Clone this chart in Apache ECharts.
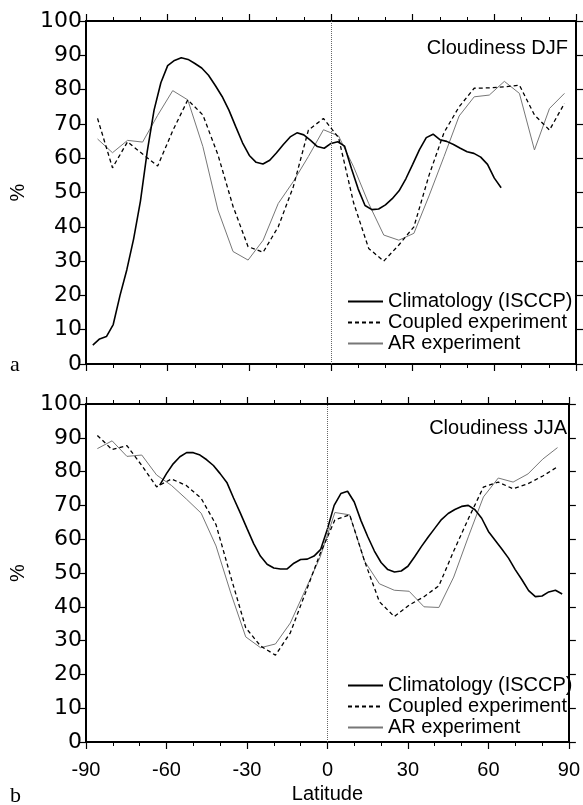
<!DOCTYPE html>
<html><head><meta charset="utf-8">
<script src="https://cdn.jsdelivr.net/npm/echarts/dist/echarts.min.js"></script>
<style>html,body{margin:0;padding:0;background:#fff}#c{width:583px;height:805px}</style>
</head><body><div id="c"></div>
<script>
// ---- data ----
const seriesNames = ['Climatology (ISCCP)', 'Coupled experiment', 'AR experiment'];
const panelTitles = ['Cloudiness DJF', 'Cloudiness JJA'];
const panelTags = ['a', 'b'];
const xTicks = [-90, -60, -30, 0, 30, 60, 90];
const yTicks = [0, 10, 20, 30, 40, 50, 60, 70, 80, 90, 100];

// model (T21 Gaussian) latitudes
const modelLats = [-85.76,-80.27,-74.74,-69.21,-63.68,-58.14,-52.61,-47.07,-41.53,-36.00,-30.46,-24.92,-19.38,-13.84,-8.30,-2.77,
  2.77,8.30,13.84,19.38,24.92,30.46,36.00,41.53,47.07,52.61,58.14,63.68,69.21,74.74,80.27,85.76];

// DJF
const coupledDJF = [71.6,57.2,64.8,61.2,57.7,68.0,77.0,72.6,61.0,46.0,34.2,32.6,40.0,51.7,68.2,71.6,
  66.0,47.0,33.7,30.0,34.7,40.0,55.0,67.5,75.0,80.4,80.5,80.8,81.3,72.6,68.2,76.0];
const arDJF = [65.6,61.6,65.2,64.7,72.5,79.7,77.0,63.4,44.9,32.8,30.3,36.1,46.8,53.2,60.5,68.3,
  66.5,57.5,46.8,37.6,36.1,38.1,49.0,60.5,72.3,77.9,78.4,82.4,78.9,62.4,74.5,78.9];
const climLatDJF = [-87.5,-85,-82.5,-80,-77.5,-75,-72.5,-70,-67.5,-65,-62.5,-60,-57.5,-55,-52.5,-50,-47.5,-45,-42.5,-40,
  -37.5,-35,-32.5,-30,-27.5,-25,-22.5,-20,-17.5,-15,-12.5,-10,-7.5,-5,-2.5,0,2.5,5,7.5,10,12.5,15,17.5,20,22.5,25,
  27.5,30,32.5,35,37.5,40,42.5,45,47.5,50,52.5,55,57.5,60,62.5];
const climDJF = [5.5,7.3,8.0,11.5,20.0,27.5,36.5,47.5,62.0,74.0,82.0,87.0,88.5,89.3,88.8,87.6,86.3,84.2,81.2,78.0,
  74.0,69.2,64.5,60.8,58.8,58.3,59.4,61.6,64.0,66.2,67.4,66.8,65.2,63.4,62.9,64.3,64.8,63.5,57.0,51.0,46.2,45.0,45.2,46.4,48.2,50.5,
  54.0,58.2,62.5,66.0,67.0,65.4,64.9,64.0,62.9,61.9,61.4,60.3,58.2,54.2,51.4];

// JJA
const coupledJJA = [90.7,86.5,87.7,81.8,75.5,77.8,75.9,72.1,64.3,48.8,33.8,28.4,25.7,32.3,43.9,55.6,
  65.7,67.2,53.5,41.5,37.1,40.5,43.0,46.2,56.5,66.2,75.4,76.9,74.9,76.4,78.7,81.4];
const arJJA = [86.8,89.1,84.5,84.9,79.0,75.9,71.9,67.7,58.0,44.0,31.1,27.9,29.0,35.2,44.9,54.6,
  67.9,67.2,53.5,46.8,44.9,44.6,40.0,39.8,48.8,60.9,72.5,78.1,76.9,79.3,83.7,87.1];
const climLatJJA = [-62.5,-60,-57.5,-55,-52.5,-50,-47.5,-45,-42.5,-40,-37.5,-35,-32.5,-30,-27.5,-25,-22.5,-20,-17.5,-15,
  -12.5,-10,-7.5,-5,-2.5,0,2.5,5,7.5,10,12.5,15,17.5,20,22.5,25,27.5,30,32.5,35,37.5,40,42.5,45,47.5,50,52.5,55,57.5,
  60,62.5,65,67.5,70,72.5,75,77.5,80,82.5,85,87.5];
const climJJA = [76.0,79.4,82.3,84.4,85.6,85.6,84.9,83.5,81.8,79.4,76.8,72.2,67.8,63.2,58.7,55.0,52.6,51.5,51.2,51.2,
  52.9,54.0,54.1,55.0,57.0,63.0,70.0,73.5,74.2,71.0,65.5,60.8,56.5,53.1,51.0,50.3,50.6,52.0,54.8,57.8,60.6,63.2,65.8,67.6,68.8,69.7,70.0,68.7,66.2,
  62.3,59.7,57.1,54.4,51.0,48.0,44.8,43.0,43.2,44.4,44.9,43.8];

// ---- build ----
const zip = (xs, ys) => xs.map((x, i) => [x, ys[i]]);
const FONT = 'Liberation Sans';
const grids = [
  {left: 85, top: 21, width: 491, height: 343},
  {left: 85, top: 404, width: 491, height: 344}
];

function xAx(g, pos, labels) {
  return {
    type: 'value', gridIndex: g, position: pos, min: xTicks[0], max: xTicks[xTicks.length-1], interval: 30,
    axisLine: {show: true, onZero: false, lineStyle: {color: '#000', width: 2}},
    axisTick: {show: true, inside: false, length: 7, lineStyle: {color: '#000', width: 1.2}},
    minorTick: {show: true, splitNumber: 3, length: 4, lineStyle: {color: '#000', width: 1}},
    splitLine: {show: false}, minorSplitLine: {show: false},
    axisLabel: {show: labels, fontFamily: FONT, fontSize: 20, color: '#000', margin: 18},
    name: labels ? 'Latitude' : '', nameLocation: 'middle', nameGap: 42,
    nameTextStyle: {fontFamily: FONT, fontSize: 20, color: '#000'}
  };
}
function yAx(g, pos, labels) {
  return {
    type: 'value', gridIndex: g, position: pos, min: yTicks[0], max: yTicks[yTicks.length-1], interval: 10,
    axisLine: {show: true, onZero: false, lineStyle: {color: '#000', width: 2}},
    axisTick: {show: true, inside: false, length: 7, lineStyle: {color: '#000', width: 1.2}},
    splitLine: {show: false},
    axisLabel: {show: labels, fontFamily: 'DejaVu Sans', fontSize: 22, color: '#000', margin: 4},
    name: labels ? '%' : '', nameLocation: 'middle', nameGap: 58, nameRotate: 90,
    nameTextStyle: {fontFamily: FONT, fontSize: 20, color: '#000'}
  };
}

const zeroLine = {
  silent: true, symbol: ['none', 'none'], label: {show: false},
  lineStyle: {color: '#666', width: 1, type: [1, 1]}, data: [{xAxis: 0}]
};

function panelSeries(p, clim, climLat, coupled, ar) {
  const xi = p * 2, yi = p * 2;
  return [
    {type: 'line', name: seriesNames[0], xAxisIndex: xi, yAxisIndex: yi, data: zip(climLat, clim),
     symbol: 'none', lineStyle: {color: '#000', width: 1.6}, itemStyle: {color: '#000'}, z: 4, markLine: zeroLine},
    {type: 'line', name: seriesNames[1], xAxisIndex: xi, yAxisIndex: yi, data: zip(modelLats, coupled),
     symbol: 'none', lineStyle: {color: '#000', width: 1.3, type: [4, 3]}, itemStyle: {color: '#000'}, z: 3},
    {type: 'line', name: seriesNames[2], xAxisIndex: xi, yAxisIndex: yi, data: zip(modelLats, ar),
     symbol: 'none', lineStyle: {color: '#777', width: 1}, itemStyle: {color: '#777'}, z: 2}
  ];
}

const legendBase = {
  orient: 'vertical', left: 347, itemWidth: 35, itemHeight: 14, itemGap: 0, padding: 0,
  selectedMode: false, data: seriesNames,
  itemStyle: {color: 'transparent', borderColor: 'transparent', borderWidth: 0, opacity: 0},
  textStyle: {fontFamily: FONT, fontSize: 20, color: '#000', lineHeight: 21}
};

const option = {
  animation: false,
  backgroundColor: '#fff',
  grid: grids,
  xAxis: [xAx(0, 'bottom', false), xAx(0, 'top', false), xAx(1, 'bottom', true), xAx(1, 'top', false)],
  yAxis: [yAx(0, 'left', true), yAx(0, 'right', false), yAx(1, 'left', true), yAx(1, 'right', false)],
  title: [
    {text: panelTitles[0], right: 15, top: 38, padding: 0,
     textStyle: {fontFamily: FONT, fontSize: 20, fontWeight: 'normal', color: '#000'}},
    {text: panelTitles[1], right: 16, top: 418, padding: 0,
     textStyle: {fontFamily: FONT, fontSize: 20, fontWeight: 'normal', color: '#000'}},
    {text: panelTags[0], left: 10, top: 354, padding: 0,
     textStyle: {fontFamily: 'Liberation Serif', fontSize: 22, fontWeight: 'normal', color: '#000'}},
    {text: panelTags[1], left: 10, top: 785, padding: 0,
     textStyle: {fontFamily: 'Liberation Serif', fontSize: 22, fontWeight: 'normal', color: '#000'}}
  ],
  legend: [
    Object.assign({}, legendBase, {top: 291}),
    Object.assign({}, legendBase, {top: 675})
  ],
  series: [].concat(
    panelSeries(0, climDJF, climLatDJF, coupledDJF, arDJF),
    panelSeries(1, climJJA, climLatJJA, coupledJJA, arJJA)
  )
};

const chart = echarts.init(document.getElementById('c'), null, {renderer: 'canvas'});
chart.setOption(option);
</script></body></html>
